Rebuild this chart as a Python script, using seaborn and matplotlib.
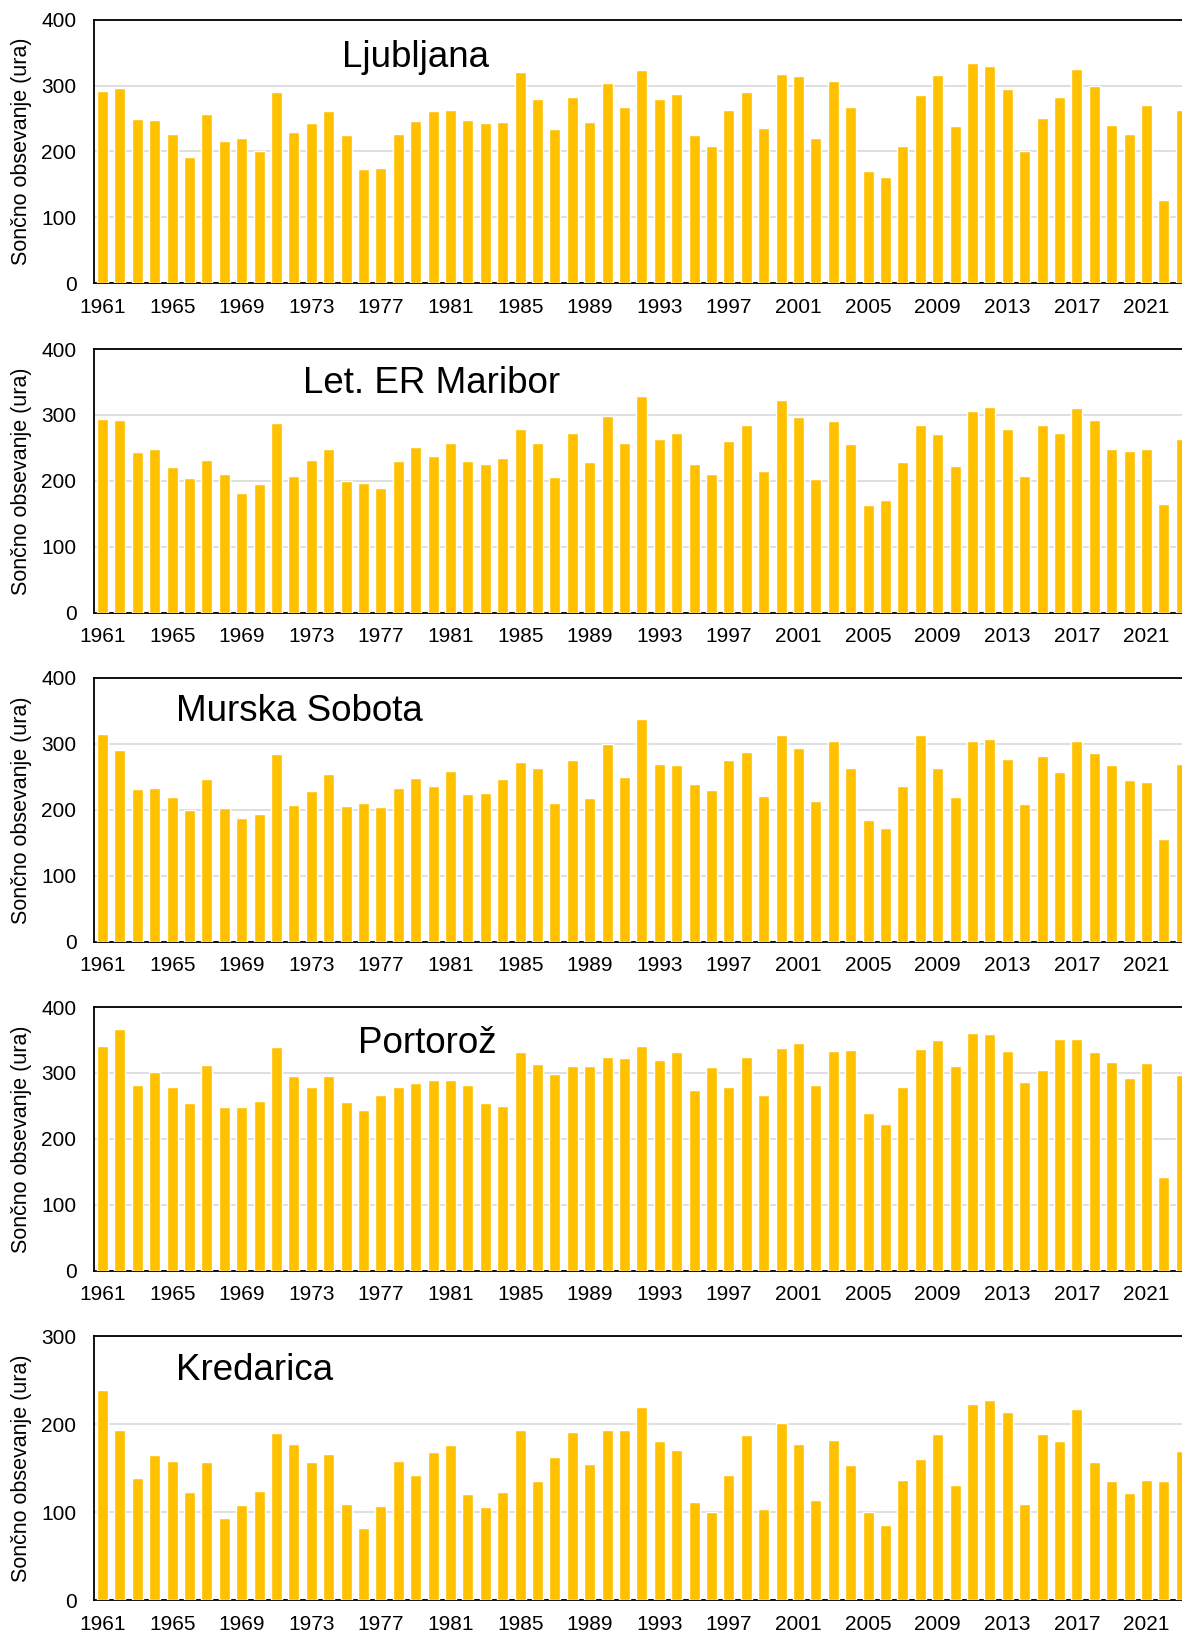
import numpy as np
import pandas as pd
import matplotlib
matplotlib.use("Agg")
import matplotlib.pyplot as plt
import seaborn as sns

# Annual sunshine duration (hours) per station, 1961-2023
years = list(range(1961, 2024))

ljubljana = [292, 296, 250, 248, 226, 191, 257, 216, 221, 200,
             290, 229, 243, 262, 225, 174, 175, 227, 246, 261,
             263, 247, 243, 244, 320, 279, 234, 283, 244, 304,
             267, 324, 280, 287, 225, 209, 263, 290, 235, 317,
             315, 221, 307, 267, 170, 162, 208, 285, 316, 238,
             334, 330, 294, 200, 251, 282, 325, 300, 240, 226,
             270, 126, 263]

maribor = [294, 292, 244, 248, 221, 205, 232, 211, 182, 195,
           288, 207, 231, 249, 200, 197, 189, 230, 252, 238,
           257, 230, 226, 235, 278, 258, 206, 273, 228, 298,
           257, 329, 264, 272, 225, 211, 261, 285, 215, 322,
           297, 203, 291, 256, 163, 171, 228, 285, 271, 222,
           306, 312, 278, 208, 285, 273, 310, 292, 249, 246,
           249, 165, 264]

murska_sobota = [315, 291, 231, 233, 219, 200, 246, 202, 187, 194,
                 285, 208, 228, 254, 206, 211, 204, 233, 248, 236,
                 259, 224, 226, 246, 272, 263, 211, 276, 218, 300,
                 250, 337, 270, 268, 239, 230, 275, 287, 221, 313,
                 293, 214, 304, 264, 185, 172, 236, 314, 263, 220,
                 305, 307, 277, 209, 281, 258, 305, 286, 268, 245,
                 242, 156, 269]

portoroz = [341, 366, 282, 302, 279, 255, 312, 249, 248, 258,
            339, 295, 279, 296, 256, 244, 267, 279, 285, 290,
            290, 282, 254, 250, 332, 314, 299, 310, 310, 324,
            323, 341, 320, 332, 274, 309, 278, 324, 266, 338,
            346, 282, 333, 335, 239, 223, 279, 336, 350, 311,
            360, 359, 333, 287, 304, 352, 352, 332, 317, 292,
            315, 142, 297]

kredarica = [239, 193, 139, 165, 158, 123, 157, 93, 108, 124,
             190, 177, 157, 166, 109, 82, 107, 158, 142, 168,
             176, 121, 106, 123, 193, 135, 163, 191, 155, 193,
             193, 219, 181, 171, 111, 100, 142, 188, 103, 201,
             178, 114, 182, 154, 100, 85, 136, 160, 189, 131,
             223, 228, 214, 109, 189, 181, 217, 157, 135, 122,
             136, 135, 169]

stations = ["Ljubljana", "Let. ER Maribor", "Murska Sobota", "Portorož", "Kredarica"]
series = [ljubljana, maribor, murska_sobota, portoroz, kredarica]
y_max = [400, 400, 400, 400, 300]
ylabel = "Sončno obsevanje (ura)"

# panel layout (figure fractions) and title placement (axes fractions)
panel_bottoms = [0.8266, 0.6250, 0.4237, 0.2223, 0.0208]
panel_height = 0.1614
ax_left, ax_width = 0.0794, 0.9274
title_pos = [(0.2266, 0.8195), (0.191, 0.832), (0.0752, 0.838),
             (0.241, 0.826), (0.0752, 0.8355)]

BAR = "#FFC000"
TICK_FS = 15

sns.set_theme(style="white")
plt.rcParams["font.family"] = ["Liberation Sans", "DejaVu Sans"]

fig = plt.figure(figsize=(11.82, 16.34), dpi=100)

for i, (name, vals) in enumerate(zip(stations, series)):
    ax = fig.add_axes([ax_left, panel_bottoms[i], ax_width, panel_height])
    df = pd.DataFrame({"leto": [str(y) for y in years], "ure": vals})
    sns.barplot(data=df, x="leto", y="ure", color=BAR, saturation=1,
                width=0.63, ax=ax, zorder=3)

    ax.set_xlim(-0.5, len(years) - 0.5)
    ax.set_ylim(0, y_max[i])
    ax.set_yticks(np.arange(0, y_max[i] + 1, 100))
    ax.tick_params(axis="y", length=0, pad=12.5, labelsize=TICK_FS, labelcolor="black")

    # boundary ticks between bars, year labels every fourth bar
    ax.set_xticks(np.arange(0.5, len(years) - 0.5, 1))
    ax.set_xticklabels([])
    ax.tick_params(axis="x", which="major", direction="in", length=5,
                   width=1.2, color="black")
    ax.set_xticks(np.arange(0, len(years) - 2, 4), minor=True)
    ax.set_xticklabels([str(y) for y in years[0:len(years) - 2:4]], minor=True)
    ax.tick_params(axis="x", which="minor", length=0, pad=10.5, labelsize=TICK_FS,
                   labelcolor="black")

    ax.set_xlabel("")
    ax.set_ylabel(ylabel, fontsize=15.5, color="black")
    ax.yaxis.set_label_coords(-0.0561, 0.5)

    ax.yaxis.grid(True, color="#d9d9d9", linewidth=1.2, zorder=0)
    ax.xaxis.grid(False)
    ax.set_axisbelow(True)
    for side in ["left", "bottom", "top", "right"]:
        ax.spines[side].set_visible(True)
        ax.spines[side].set_color("black")
        ax.spines[side].set_linewidth(1.3)

    tx, ty = title_pos[i]
    ax.text(tx, ty, name, transform=ax.transAxes, ha="left", va="baseline",
            fontsize=26.5, color="black")

fig.savefig("out.png", dpi=100)
